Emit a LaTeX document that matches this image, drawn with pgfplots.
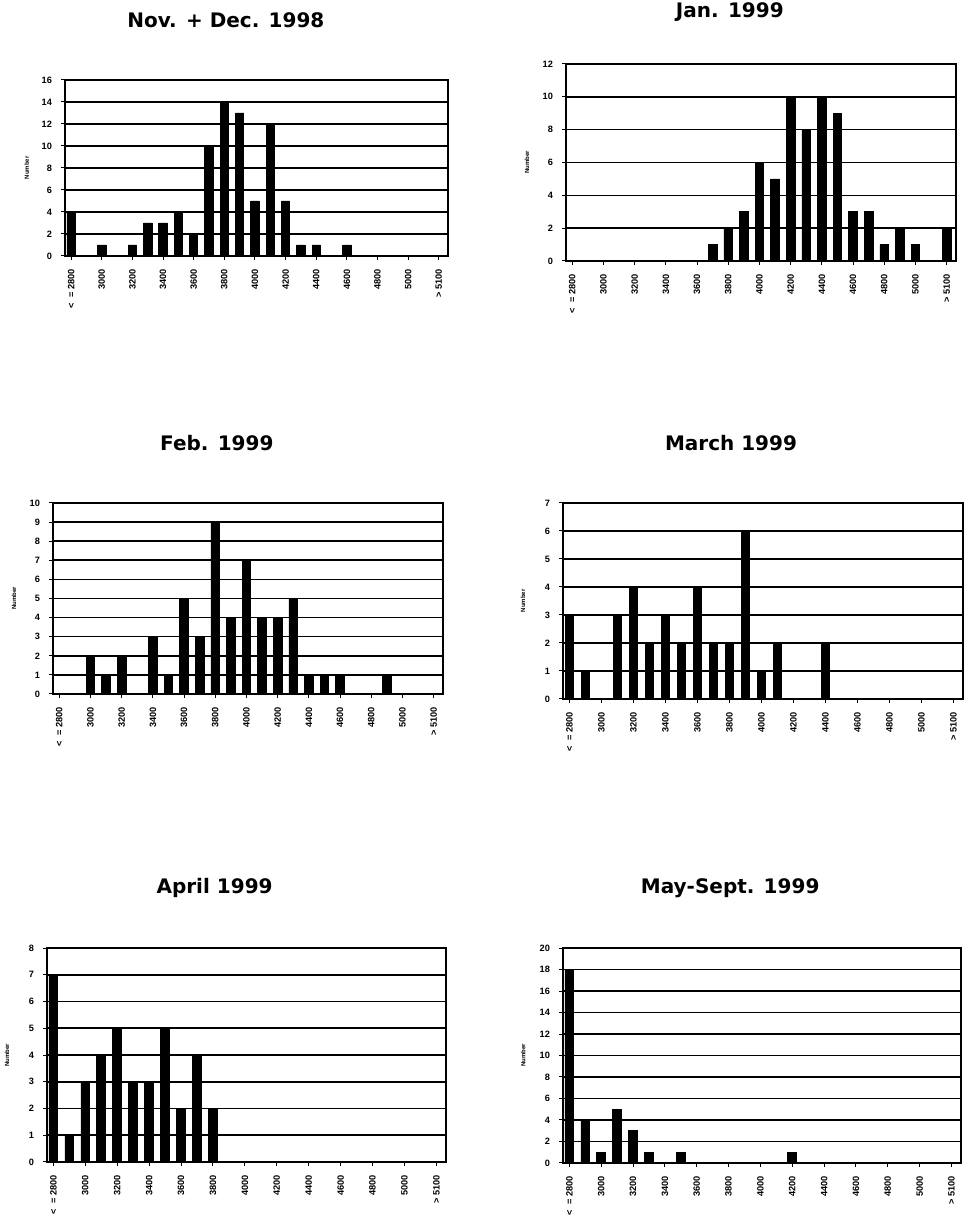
\documentclass[border=0pt]{standalone}
\usepackage{fontspec}
\setmainfont{Liberation Sans}
\newfontfamily\titlefont{DejaVu Sans}
\usepackage{pgfplots}
\pgfplotsset{compat=1.18}

\pgfplotsset{
  panel/.style={
    ybar, scale only axis, anchor=south west,
    bar width=0.55, xmin=-0.4, xmax=24.6, ymin=0,
    axis line style={line width=0.8pt},
    ymajorgrids, grid style={black, line width=0.8pt},
    xtick={0,2,...,24},
    xticklabels={{<\hspace{3pt}= 2800},3000,3200,3400,3600,3800,4000,4200,4400,4600,4800,5000,{> 5100}},
    tick align=outside, major tick length=2pt,
    tick style={black, line width=0.5pt},
    xtick pos=bottom, ytick pos=left,
    /pgf/number format/assume math mode=true,
    ticklabel style={font=\fontsize{4.6}{5}\selectfont\bfseries},
    xticklabel style={rotate=90, anchor=east, xshift=-1pt},
    yticklabel style={xshift=-1pt},
    ylabel={Number},
    ylabel style={at={(axis description cs:-0.1,0.5)}, anchor=center, font=\fontsize{3}{4}\selectfont\bfseries},
    title style={at={(axis description cs:0.42,1)}, anchor=center, yshift=24pt,
      font=\titlefont\bfseries\fontsize{10}{12}\selectfont},
  },
  bars/.style={fill=black, draw=black},
}

\begin{document}
\begin{tikzpicture}
\useasboundingbox (0,0) rectangle (482pt,613.5pt);

% Nov. + Dec. 1998
\begin{axis}[panel, at={(32.5pt,485.5pt)}, width=191.5pt, height=88pt,
  ymax=16, ytick={0,2,...,16}, title={Nov. + Dec. 1998}]
\addplot[bars] coordinates {(0,4) (2,1) (4,1) (5,3) (6,3) (7,4) (8,2) (9,10) (10,14)
  (11,13) (12,5) (13,12) (14,5) (15,1) (16,1) (18,1)};
\end{axis}

% Jan. 1999
\begin{axis}[panel, at={(283pt,483pt)}, width=195pt, height=98.5pt,
  ymax=12, ytick={0,2,...,12}, title={Jan. 1999}, title style={yshift=-4pt}]
\addplot[bars] coordinates {(9,1) (10,2) (11,3) (12,6) (13,5) (14,10) (15,8) (16,10)
  (17,9) (18,3) (19,3) (20,1) (21,2) (22,1) (24,2)};
\end{axis}

% Feb. 1999
\begin{axis}[panel, at={(26.5pt,266.5pt)}, width=195pt, height=95.5pt,
  ymax=10, ytick={0,1,...,10}, title={Feb. 1999}]
\addplot[bars] coordinates {(2,2) (3,1) (4,2) (6,3) (7,1) (8,5) (9,3) (10,9) (11,4)
  (12,7) (13,4) (14,4) (15,5) (16,1) (17,1) (18,1) (21,1)};
\end{axis}

% March 1999
\begin{axis}[panel, at={(281.5pt,264pt)}, width=200pt, height=98pt,
  ymax=7, ytick={0,1,...,7}, title={March 1999}]
\addplot[bars] coordinates {(0,3) (1,1) (3,3) (4,4) (5,2) (6,3) (7,2) (8,4) (9,2)
  (10,2) (11,6) (12,1) (13,2) (16,2)};
\end{axis}

% April 1999
\begin{axis}[panel, at={(23.5pt,32.5pt)}, width=199.5pt, height=107pt,
  ymax=8, ytick={0,1,...,8}, title={April 1999}]
\addplot[bars] coordinates {(0,7) (1,1) (2,3) (3,4) (4,5) (5,3) (6,3) (7,5) (8,2)
  (9,4) (10,2)};
\end{axis}

% May-Sept. 1999
\begin{axis}[panel, at={(281.5pt,32pt)}, width=199pt, height=107.5pt,
  ymax=20, ytick={0,2,...,20}, title={May-Sept. 1999}]
\addplot[bars] coordinates {(0,18) (1,4) (2,1) (3,5) (4,3) (5,1) (7,1) (14,1)};
\end{axis}
\end{tikzpicture}
\end{document}
